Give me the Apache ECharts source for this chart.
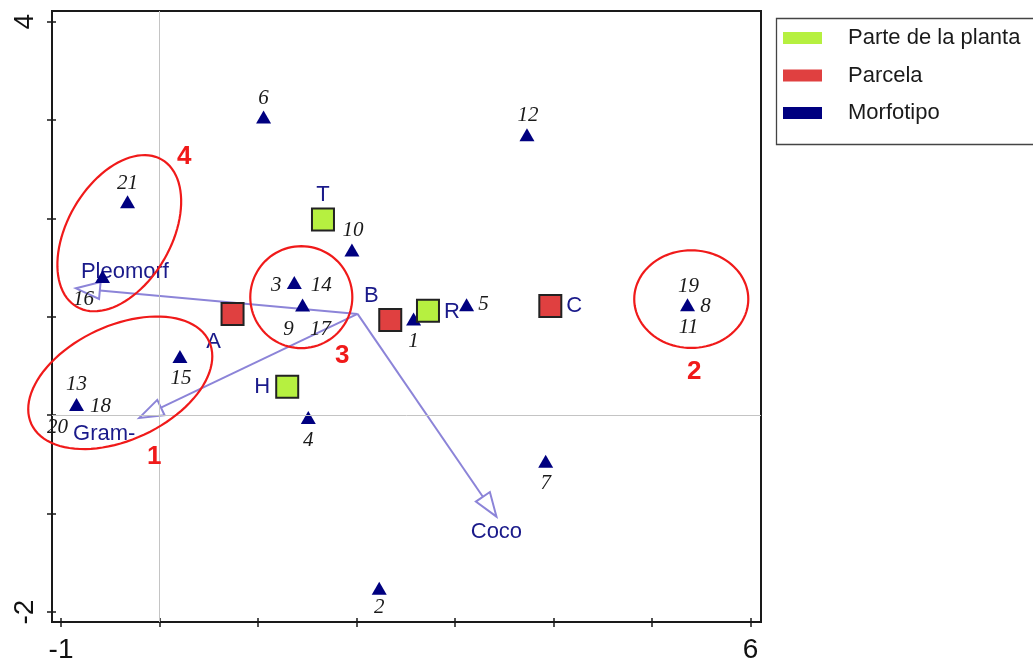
<!DOCTYPE html>
<html><head><meta charset="utf-8">
<script src="https://cdn.jsdelivr.net/npm/echarts@6/dist/echarts.min.js"></script>
<style>html,body{margin:0;padding:0;background:#fff}#c{width:1033px;height:664px}</style>
</head><body><div id="c"></div>
<script>
// ---------------- data ----------------
const xTicks = [-1, 0, 1, 2, 3, 4, 5, 6];
const xTickLabels = [-1, 6];
const yTicks = [-2, -1, 0, 1, 2, 3, 4];
const yTickLabels = [-2, 4];

const seriesNames = ['Parte de la planta', 'Parcela', 'Morfotipo'];

const parteNames = ['T', 'R', 'H'];
const parteX = [1.659, 2.725, 1.296];
const parteY = [1.989, 1.063, 0.290];

const parcelaNames = ['A', 'B', 'C'];
const parcelaX = [0.741, 2.342, 3.967];
const parcelaY = [1.029, 0.969, 1.110];

const morfoIds = [['6'], ['12'], ['21'], ['16'], ['13', '18', '20'], ['15'], ['3', '14'], ['9', '17'], ['10'], ['1'], ['5'], ['19', '8', '11'], ['4'], ['7'], ['2']];
const morfoX = [1.056, 3.73, -0.325, -0.579, -0.843, 0.207, 1.368, 1.452, 1.953, 2.579, 3.117, 5.36, 1.51, 3.92, 2.23];
const morfoY = [3.03, 2.85, 2.17, 1.41, 0.11, 0.597, 1.35, 1.12, 1.68, 0.979, 1.124, 1.124, -0.024, -0.467, -1.757];

const vectorNames = ['Pleomorf', 'Gram-', 'Coco'];
const vectorOrigin = [2.01, 1.03];
const vectorX = [-0.849, -0.206, 3.42];
const vectorY = [1.29, -0.027, -1.03];

const groupNames = ['1', '2', '3', '4'];
const groupCX = [-0.399, 5.398, 1.439, -0.409];
const groupCY = [0.33, 1.18, 1.20, 1.85];
const groupRX = [0.995, 0.579, 0.518, 0.863];
const groupRY = [0.58, 0.496, 0.518, 0.528];
const groupTilt = [25, 0, 0, 60];
const groupTagX = [-0.054, 5.428, 1.855, 0.251];
const groupTagY = [-0.42, 0.442, 0.604, 2.63];

// ---------------- layout (label offsets in px) ----------------
const idOffset = {'6':[0,-19],'12':[1,-19],'21':[0,-18],'16':[-19,23],'13':[0,-20],'18':[24,2],'20':[-19,23],
  '15':[1,22],'3':[-18,3],'14':[27,3],'9':[-14,24],'17':[18,24],'10':[1,-19],'1':[0,23],'5':[17,0],
  '19':[1,-18],'8':[18,2],'11':[1,23],'4':[0,23],'7':[0,22],'2':[0,19]};
const letterOffset = {T:[0,-25], R:[24,1], H:[-25,0], A:[-19,28], B:[-19,-24], C:[24,0]};
const vectorLabelOffset = {'Pleomorf':[5,-16,'left'], 'Gram-':[-35,16,'center'], 'Coco':[0,15,'center']};

const NAVY = '#000080';
const LABEL_NAVY = '#1a1a8a';
const ARROW = '#8c84d8';
const RED = '#f01a1a';
const SANS = 'Liberation Sans, Arial, sans-serif';
const SERIF = 'Liberation Serif, Times New Roman, serif';

// flat list of number labels
const idItems = [], idTexts = [];
morfoIds.forEach((ids, i) => ids.forEach(t => { idItems.push([morfoX[i], morfoY[i]]); idTexts.push(t); }));

const chart = echarts.init(document.getElementById('c'), null, {renderer: 'canvas'});

const xBase = {type: 'value', min: -1.092, max: 6.106, splitLine: {show: false}};
const yBase = {type: 'value', min: -2.101, max: 4.108, splitLine: {show: false}};

const option = {
  animation: false,
  grid: {left: 52, right: 272, top: 11, bottom: 40, show: true, borderColor: '#1a1a1a', borderWidth: 2, backgroundColor: 'transparent'},
  xAxis: [
    Object.assign({}, xBase, {position: 'bottom',
      axisLine: {show: true, onZero: false, lineStyle: {color: '#1a1a1a', width: 2}},
      axisTick: {show: true, length: 5, customValues: xTicks, lineStyle: {color: '#1a1a1a', width: 1.5}},
      axisLabel: {show: true, customValues: xTickLabels, fontSize: 28, fontFamily: SANS, color: '#111', margin: 14}}),
    Object.assign({}, xBase, {position: 'bottom',
      axisLine: {show: false, onZero: false},
      axisTick: {show: true, inside: true, length: 4, customValues: xTicks, lineStyle: {color: '#1a1a1a', width: 1.5}},
      axisLabel: {show: false}})
  ],
  yAxis: [
    Object.assign({}, yBase, {position: 'left',
      axisLine: {show: true, onZero: false, lineStyle: {color: '#1a1a1a', width: 2}},
      axisTick: {show: true, length: 5, customValues: yTicks, lineStyle: {color: '#1a1a1a', width: 1.5}},
      axisLabel: {show: true, customValues: yTickLabels, rotate: 90, fontSize: 28, fontFamily: SANS, color: '#111', margin: 13}}),
    Object.assign({}, yBase, {position: 'left',
      axisLine: {show: false, onZero: false},
      axisTick: {show: true, inside: true, length: 4, customValues: yTicks, lineStyle: {color: '#1a1a1a', width: 1.5}},
      axisLabel: {show: false}})
  ],
  legend: {
    data: seriesNames,
    orient: 'vertical', left: 778, top: 22,
    icon: 'rect', itemWidth: 39, itemHeight: 12, itemGap: 15.5,
    itemStyle: {borderWidth: 0, opacity: 1},
    textStyle: {fontSize: 22, fontFamily: SANS, color: '#1a1a1a', lineHeight: 22, padding: [0, 0, 0, 21]},
    selectedMode: false
  },
  graphic: [{type: 'rect', left: 774, top: 16, shape: {width: 300, height: 126}, style: {fill: 'none', stroke: '#444', lineWidth: 1.3}}],
  series: [
    { // reference lines at x=0 / y=0
      type: 'scatter', name: 'ref', data: [], z: 1,
      markLine: {silent: true, symbol: ['none', 'none'], label: {show: false}, animation: false,
        lineStyle: {color: '#c4c4c4', width: 1, type: 'solid', opacity: 1},
        data: [{xAxis: 0}, {yAxis: 0}]}
    },
    { // biplot vectors
      type: 'custom', name: 'vectors', z: 3,
      data: vectorX.map((x, i) => [x, vectorY[i]]),
      encode: {x: 0, y: 1},
      renderItem: function (params, api) {
        const o = api.coord(vectorOrigin);
        const t = api.coord([api.value(0), api.value(1)]);
        const dx = t[0] - o[0], dy = t[1] - o[1];
        const len = Math.sqrt(dx * dx + dy * dy);
        const ux = dx / len, uy = dy / len;
        const L = 24, W = 8.5;
        const bx = t[0] - ux * L, by = t[1] - uy * L;
        const nx = -uy, ny = ux;
        const name = vectorNames[params.dataIndex];
        const off = vectorLabelOffset[name];
        return {type: 'group', children: [
          {type: 'line', shape: {x1: o[0], y1: o[1], x2: bx, y2: by}, style: {stroke: ARROW, lineWidth: 2}},
          {type: 'polygon', shape: {points: [[t[0], t[1]], [bx + nx * W, by + ny * W], [bx - nx * W, by - ny * W]]},
            style: {fill: '#fff', stroke: ARROW, lineWidth: 2}},
          {type: 'text', x: t[0] + off[0], y: t[1] + off[1],
            style: {text: name, fill: LABEL_NAVY, font: '22px ' + SANS, align: off[2], verticalAlign: 'middle'}}
        ]};
      }
    },
    {
      type: 'scatter', name: 'Morfotipo', z: 4,
      symbol: 'triangle', symbolSize: [15, 13],
      itemStyle: {color: NAVY, opacity: 1},
      data: morfoX.map((x, i) => [x, morfoY[i]])
    },
    { // morphotype numbers
      type: 'custom', name: 'ids', z: 5,
      data: idItems, encode: {x: 0, y: 1},
      renderItem: function (params, api) {
        const p = api.coord([api.value(0), api.value(1)]);
        const t = idTexts[params.dataIndex];
        const off = idOffset[t];
        return {type: 'text', x: p[0] + off[0], y: p[1] + off[1],
          style: {text: t, fill: '#1a1a1a', font: 'italic 21px ' + SERIF, align: 'center', verticalAlign: 'middle'}};
      }
    },
    {
      type: 'scatter', name: 'Parte de la planta', z: 6,
      symbol: 'rect', symbolSize: 22,
      itemStyle: {color: '#b6f040', borderColor: '#222', borderWidth: 2, opacity: 1},
      label: {show: true, position: 'inside', formatter: '{b}', color: LABEL_NAVY, fontSize: 22, fontFamily: SANS},
      data: parteNames.map((n, i) => ({name: n, value: [parteX[i], parteY[i]], label: {offset: letterOffset[n]}}))
    },
    {
      type: 'scatter', name: 'Parcela', z: 6,
      symbol: 'rect', symbolSize: 22,
      itemStyle: {color: '#e04040', borderColor: '#222', borderWidth: 2, opacity: 1},
      label: {show: true, position: 'inside', formatter: '{b}', color: LABEL_NAVY, fontSize: 22, fontFamily: SANS},
      data: parcelaNames.map((n, i) => ({name: n, value: [parcelaX[i], parcelaY[i]], label: {offset: letterOffset[n]}}))
    },
    { // annotation ellipses with group numbers
      type: 'custom', name: 'groups', z: 8,
      data: groupCX.map((cx, i) => [cx, groupCY[i], groupRX[i], groupRY[i], groupTilt[i]]),
      encode: {x: 0, y: 1},
      renderItem: function (params, api) {
        const i = params.dataIndex;
        const c = api.coord([api.value(0), api.value(1)]);
        const s = api.size([api.value(2), api.value(3)]);
        const a = api.value(4) * Math.PI / 180;
        const pts = [];
        for (let k = 0; k < 96; k++) {
          const th = k / 96 * Math.PI * 2;
          const px = s[0] * Math.cos(th), py = s[1] * Math.sin(th);
          pts.push([c[0] + px * Math.cos(a) + py * Math.sin(a), c[1] - px * Math.sin(a) + py * Math.cos(a)]);
        }
        const tp = api.coord([groupTagX[i], groupTagY[i]]);
        return {type: 'group', children: [
          {type: 'polygon', shape: {points: pts}, style: {fill: 'none', stroke: RED, lineWidth: 2.2}},
          {type: 'text', x: tp[0], y: tp[1], style: {text: groupNames[i], fill: RED, font: 'bold 26px ' + SANS, align: 'center', verticalAlign: 'middle'}}
        ]};
      }
    }
  ]
};
chart.setOption(option);
</script>
</body></html>
